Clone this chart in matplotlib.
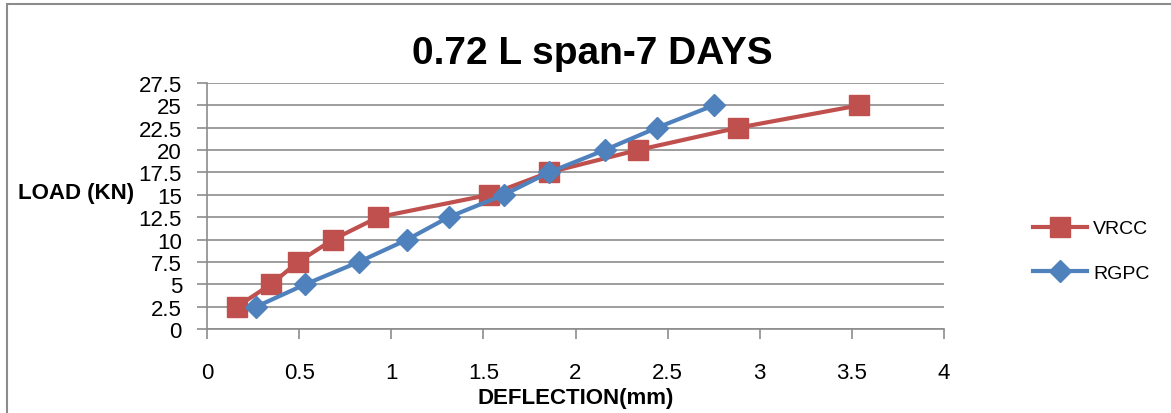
import matplotlib
matplotlib.use("Agg")
import matplotlib.pyplot as plt
from matplotlib.patches import Rectangle

vrcc_x = [0.163, 0.347, 0.495, 0.684, 0.929, 1.532, 1.855, 2.337, 2.882, 3.539]
vrcc_y = [2.5, 5, 7.5, 10, 12.5, 15, 17.5, 20, 22.5, 25]
rgpc_x = [0.268, 0.534, 0.824, 1.087, 1.311, 1.611, 1.855, 2.158, 2.442, 2.75]
rgpc_y = [2.5, 5, 7.5, 10, 12.5, 15, 17.5, 20, 22.5, 25]
x_ticks = [0, 0.5, 1, 1.5, 2, 2.5, 3, 3.5, 4]
x_labels = ["0", "0.5", "1", "1.5", "2", "2.5", "3", "3.5", "4"]
y_ticks = [0, 2.5, 5, 7.5, 10, 12.5, 15, 17.5, 20, 22.5, 25, 27.5]
y_labels = ["0", "2.5", "5", "7.5", "10", "12.5", "15", "17.5", "20", "22.5", "25", "27.5"]

FONT = ["Liberation Sans", "DejaVu Sans"]
plt.rcParams['font.family'] = FONT

W, H = 1171, 414
fig = plt.figure(figsize=(W / 100, H / 100), dpi=100)
fig.patches.append(Rectangle((7 / W, -0.1), 1.2, (H - 5) / H + 0.1, transform=fig.transFigure,
                             fill=False, edgecolor="#8c8c8c", linewidth=1.5))

ax = fig.add_axes([207 / W, 1 - 330 / H, (944 - 207) / W, (330 - 84) / H])
ax.set_xlim(0, 4)
ax.set_ylim(0, 27.5)

red = "#C0504D"
blue = "#4F81BD"
ax.plot(vrcc_x, vrcc_y, color=red, linewidth=3, marker="s", markersize=14, label="VRCC", zorder=3)
ax.plot(rgpc_x, rgpc_y, color=blue, linewidth=3, marker="D", markersize=11, label="RGPC", zorder=4)

ax.set_xticks(x_ticks)
ax.set_xticklabels(x_labels, fontsize=16)
ax.set_yticks(y_ticks)
ax.set_yticklabels(y_labels, fontsize=16)
ax.tick_params(axis="x", length=7, color="#8c8c8c", width=1.2, pad=17)
ax.tick_params(axis="y", length=7, color="#8c8c8c", width=1.2, pad=11)
ax.grid(axis="y", color="#8c8c8c", linewidth=1.2)
for s in ["top", "right"]:
    ax.spines[s].set_visible(False)
for s in ["left", "bottom"]:
    ax.spines[s].set_color("#8c8c8c")
    ax.spines[s].set_linewidth(1.2)

fig.text(592 / W, 1 - 54 / H, "0.72 L span-7 DAYS", ha="center", va="center",
         fontsize=28, fontweight="bold")
fig.text(18 / W, 1 - 193 / H, "LOAD (KN)", ha="left", va="center", fontsize=16, fontweight="bold")
fig.text(576 / W, 1 - 399 / H, "DEFLECTION(mm)", ha="center", va="center", fontsize=16, fontweight="bold")

leg = fig.legend(loc="center left", bbox_to_anchor=(1033 / W, 1 - 252 / H), frameon=False,
                 fontsize=14, handlelength=2.8, labelspacing=1.4, handletextpad=0.3,
                 borderpad=0, borderaxespad=0)

fig.savefig("out.png", dpi=100)
